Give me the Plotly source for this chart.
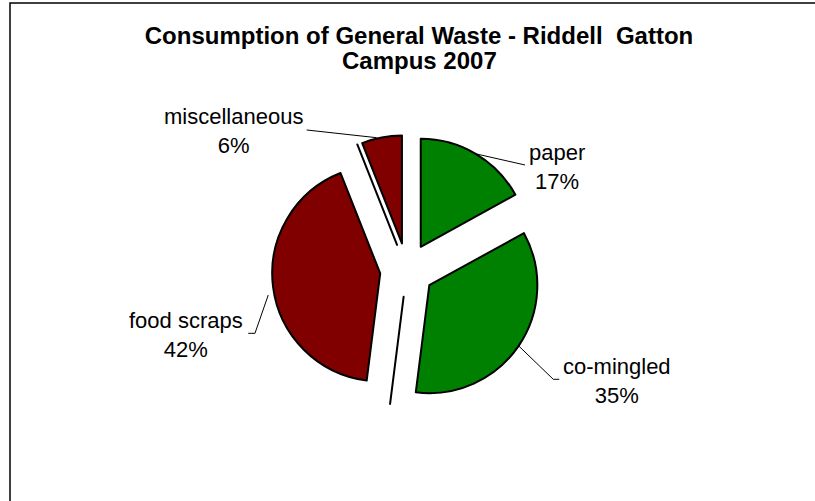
import math
import plotly.graph_objects as go

# ---- data ----
labels = ["paper", "co-mingled", "(unlabelled a)", "food scraps", "(unlabelled b)", "miscellaneous"]
values = [17, 35, 0, 42, 0, 6]
colors = ["#008000", "#008000", "#FFFFFF", "#800000", "#FFFFFF", "#800000"]
show_label = [True, True, False, True, False, True]

title_line1 = "Consumption of General Waste - Riddell  Gatton"
title_line2 = "Campus 2007"

# ---- layout constants ----
W, H = 815, 501
R = 108.0            # pie radius (px)
PULL = 0.25          # explosion as fraction of radius
CX, CY = 407.0, 270.0
S = R * (2 + 2 * PULL)
FONT = "Liberation Sans, Arial, sans-serif"

# leader-line layout per shown slice: offsets (px) from the slice's arc point
leader = {
    "paper":         dict(pts=[(0, 0), (49.3, 11.2)], text=(81.3, 13.2)),
    "co-mingled":    dict(pts=[(0, 0), (34.6, 33.4), (40.6, 33.4)], text=(98.3, 35.1)),
    "food scraps":   dict(pts=[(-4.8, 8.1), (-18.1, 46.4), (-24.8, 46.4)], text=(-86.6, 48.1)),
    "miscellaneous": dict(pts=[(-5.0, 0.3), (-75.0, -7.4)], text=(-148.7, -5.9)),
}

def px2paper(x, y):
    return x / W, 1 - y / H

fig = go.Figure()
fig.add_trace(go.Pie(
    labels=labels, values=values, sort=False, direction="clockwise", rotation=0,
    pull=PULL, textinfo="none", hoverinfo="label+percent", showlegend=False,
    marker=dict(colors=colors, line=dict(color="black", width=2)),
    domain=dict(x=[(CX - S / 2) / W, (CX + S / 2) / W],
                y=[1 - (CY + S / 2) / H, 1 - (CY - S / 2) / H]),
))

total = sum(values)
shapes = []
annotations = []
cum = 0.0
for lab, v, show in zip(labels, values, show_label):
    mid = (cum + v / 2) / total * 2 * math.pi
    cum += v
    if not show:
        continue
    ax = CX + R * (1 + PULL) * math.sin(mid)
    ay = CY - R * (1 + PULL) * math.cos(mid)
    spec = leader[lab]
    pts = [px2paper(ax + dx, ay + dy) for dx, dy in spec["pts"]]
    path = "M " + " L ".join(f"{x:.5f},{y:.5f}" for x, y in pts)
    shapes.append(dict(type="path", xref="paper", yref="paper", path=path,
                       line=dict(color="black", width=1)))
    tx, ty = px2paper(ax + spec["text"][0], ay + spec["text"][1])
    pct = f"{round(v / total * 100)}%"
    annotations.append(dict(x=tx, y=ty, xref="paper", yref="paper", showarrow=False,
                            text=f"{lab}<br>{pct}", xanchor="center", yanchor="middle",
                            align="center", font=dict(family=FONT, size=22, color="black")))

# chart border (right and bottom edges lie outside the picture)
shapes.append(dict(type="rect", xref="paper", yref="paper",
                   x0=10 / W, x1=1.02, y0=-0.02, y1=1 - 3 / H,
                   line=dict(color="black", width=1.5)))

annotations.append(dict(x=419 / W, y=1 - 60 / H, xref="paper", yref="paper", showarrow=False,
                        text=f"<b>{title_line2}</b>", xanchor="center", yanchor="middle",
                        font=dict(family=FONT, size=24, color="black")))

fig.update_layout(
    width=W, height=H,
    margin=dict(l=0, r=0, t=0, b=0),
    paper_bgcolor="white", plot_bgcolor="white",
    title=dict(text=f"<b>{title_line1}</b>", x=419 / W, xanchor="center",
               y=1 - 36 / H, yanchor="middle", yref="container",
               font=dict(family=FONT, size=24, color="black")),
    shapes=shapes, annotations=annotations,
)

fig.write_html("out.html", config={"displayModeBar": False},
               post_script="document.body.style.margin='0px';")
